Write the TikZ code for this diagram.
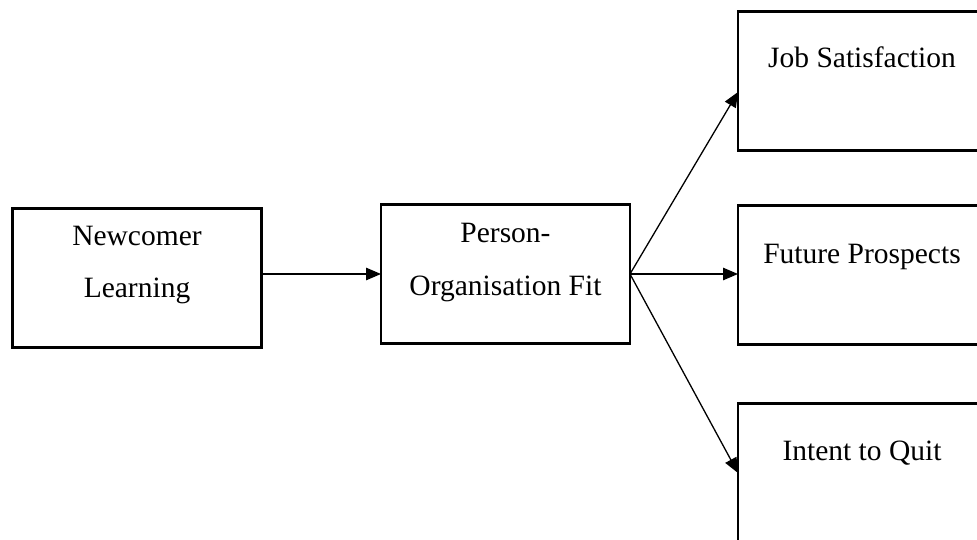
\documentclass[tikz,border=0pt]{standalone}
\usepackage{fontspec}
\setmainfont{Liberation Serif}
\usetikzlibrary{arrows.meta,calc}
\begin{document}
\begin{tikzpicture}[x=1pt,y=-1pt,
  box/.style={draw=black, line width=2.8pt, rectangle, outer sep=0pt, inner sep=0pt, minimum width=249pt, minimum height=139pt},
  lbl/.style={anchor=base, inner sep=0pt, font=\fontsize{29.5}{35}\selectfont},
  arr/.style={line width=1.3pt, -{Triangle[length=15pt,width=12.5pt]}}]
\useasboundingbox (0,0) rectangle (977,540);
\clip (0,0) rectangle (977,540);
\fill[white] (0,0) rectangle (977,540);
% boxes
\node[box] (nl) at (137,278) {};
\node[box] (po) at (505.5,274) {};
\node[box] (js) at (862.5,81) {};
\node[box] (fp) at (862.5,275) {};
\node[box] (iq) at (862.5,473) {};
% labels
\node[lbl] (nl1) at (137,245) {Newcomer};
\node[lbl] (nl2) at (137,297) {Learning};
\node[lbl] (po1) at (505.5,243) {Person-};
\node[lbl] (po2) at (505.5,295) {Organisation Fit};
\node[lbl] (jst) at (862,68) {Job Satisfaction};
\node[lbl] (fpt) at (862,263) {Future Prospects};
\node[lbl] (iqt) at (862,460) {Intent to Quit};
% connectors
\draw[arr] (nl.east |- po.east) -- (po.west);
\draw[arr] (po.east) -- ($(js.west)+(0,11)$);
\draw[arr] (po.east) -- (fp.west |- po.east);
\draw[arr] (po.east) -- (iq.west);
\end{tikzpicture}
\end{document}
